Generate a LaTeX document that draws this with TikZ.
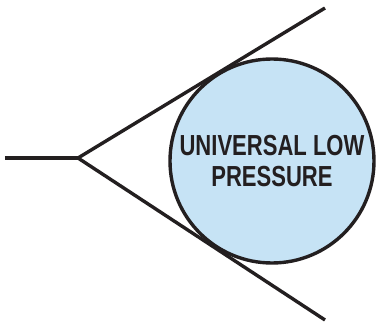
\documentclass[tikz,border=0pt]{standalone}
\usepackage{fontspec}
\newfontfamily\lowfont{Liberation Sans}[FakeStretch=0.76]
\definecolor{lowblue}{RGB}{198,227,245}
\definecolor{inkgray}{RGB}{35,31,32}
\begin{document}
\begin{tikzpicture}[x=1pt,y=-1pt]
\tikzset{
  wire/.style={line width=3.4pt, draw=inkgray},
  lowzone/.style={circle, draw=inkgray, line width=3.4pt, fill=lowblue,
    minimum size=204pt, inner sep=0pt, align=center, text=inkgray,
    font=\lowfont\bfseries\fontsize{29}{31}\selectfont}
}
\useasboundingbox (0,0) rectangle (376,324);

\coordinate (tail) at (5,158);
\coordinate (apex) at (78,158);
\coordinate (upper) at (325,8);
\coordinate (lower) at (325,320);

\node[lowzone] (low) at (272,161) {UNIVERSAL LOW\\PRESSURE};

\draw[wire] (tail) -- (apex);
\draw[wire] (apex) -- (upper);
\draw[wire] (apex) -- (lower);
\end{tikzpicture}
\end{document}
